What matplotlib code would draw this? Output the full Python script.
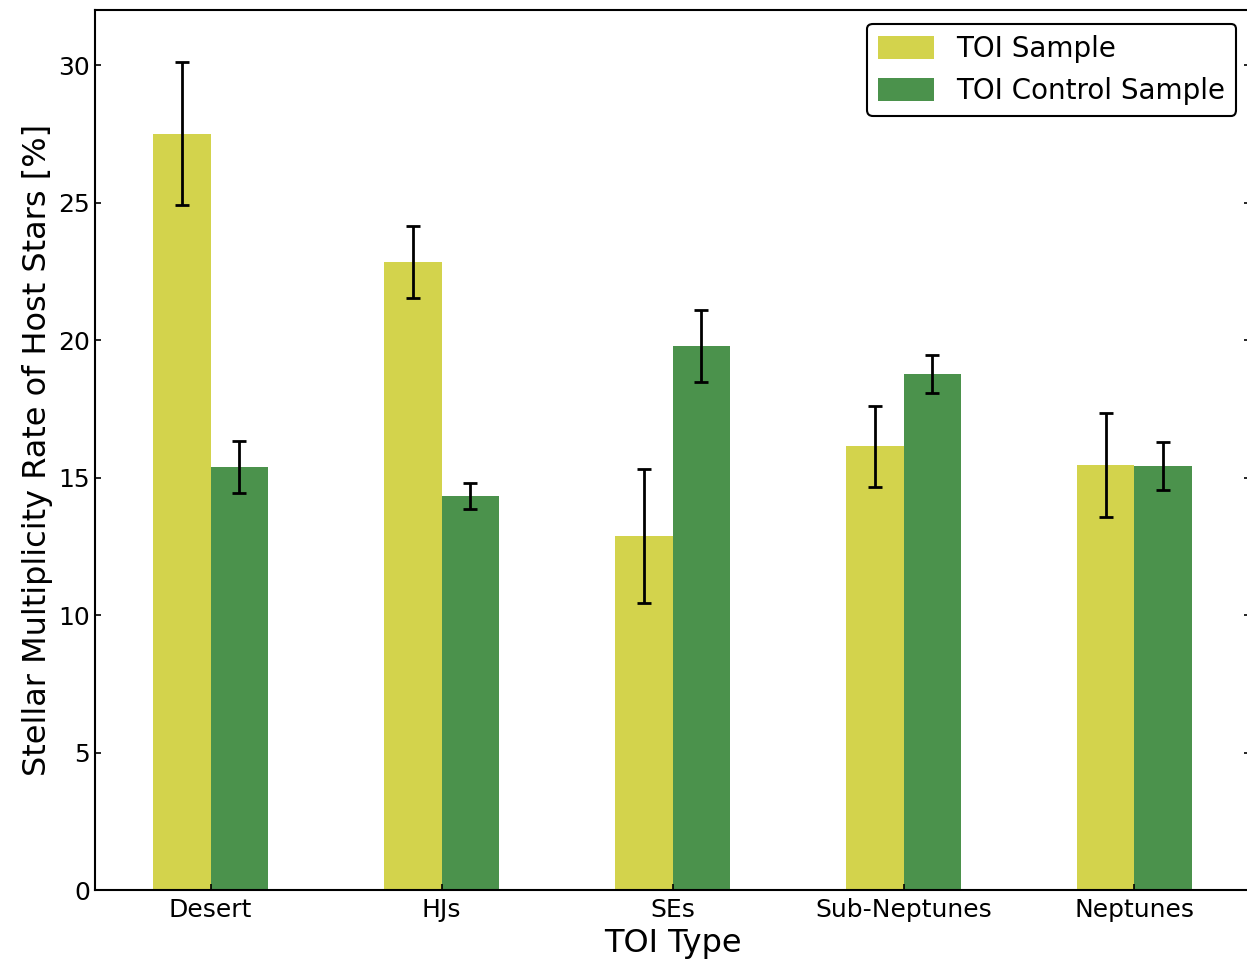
import matplotlib.pyplot as plt
import numpy as np

# TOI types and multiplicity rates (%) with 1-sigma errors
toi_types = ['Desert', 'HJs', 'SEs', 'Sub-Neptunes', 'Neptunes']
toi_rate = [27.5, 22.85, 12.87, 16.13, 15.47]
toi_err = [2.6, 1.31, 2.45, 1.47, 1.89]
ctrl_rate = [15.38, 14.33, 19.77, 18.78, 15.41]
ctrl_err = [0.96, 0.47, 1.31, 0.69, 0.87]

x = np.arange(len(toi_types))
width = 0.25

fig = plt.figure(figsize=(12.47, 9.63), dpi=100)
ax = fig.add_axes([0.0762, 0.0758, 0.9262, 0.9138])

ax.bar(x - width / 2, toi_rate, width, color='#d3d34c', label='TOI Sample')
ax.bar(x + width / 2, ctrl_rate, width, color='#4b924c', label='TOI Control Sample')

# error bars on bar centres
ax.errorbar(x - width / 2, toi_rate, yerr=toi_err, fmt='none', ecolor='black',
            elinewidth=2, capsize=5, capthick=2)
ax.errorbar(x + width / 2, ctrl_rate, yerr=ctrl_err, fmt='none', ecolor='black',
            elinewidth=2, capsize=5, capthick=2)

ax.set_xlim(-0.5, 4.5)
ax.set_ylim(0, 32)
ax.set_xticks(x)
ax.set_xticklabels(toi_types)
ax.tick_params(axis='both', direction='in', labelsize=18, right=True, length=4, width=1.2)
ax.tick_params(axis='x', pad=6)
for s in ax.spines.values():
    s.set_linewidth(1.5)
ax.set_xlabel('TOI Type', fontsize=23)
ax.set_ylabel('Stellar Multiplicity Rate of Host Stars [%]', fontsize=23)

leg = ax.legend(fontsize=20, loc='upper right', edgecolor='black', framealpha=1,
                fancybox=True, handleheight=0.9)
leg.get_frame().set_linewidth(1.5)

fig.savefig('out.png', dpi=100)
